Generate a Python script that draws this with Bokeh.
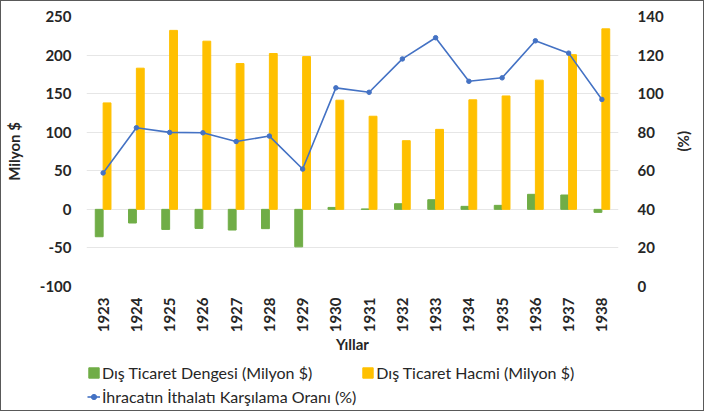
from bokeh.plotting import figure
from bokeh.models import (FactorRange, Range1d, LinearAxis, FixedTicker, SingleIntervalTicker,
                          Legend, LegendItem, ColumnDataSource)
from bokeh.layouts import column
from bokeh.transform import dodge
from bokeh.embed import file_html
from bokeh.resources import INLINE
import math

years = ["1923", "1924", "1925", "1926", "1927", "1928", "1929", "1930",
         "1931", "1932", "1933", "1934", "1935", "1936", "1937", "1938"]
balance = [-35.5, -17.7, -26, -24.7, -26.8, -25, -48.6, 2.5,
           0.5, 7.3, 12.5, 3.9, 5.2, 19.5, 18.6, -3.9]
volume = [138, 183, 232, 218, 189, 202, 198, 141.5,
          120.7, 89, 103.7, 142, 147, 167.5, 200.5, 234]
coverage = [58.9, 82.3, 79.9, 79.7, 75.2, 78, 60.9, 103,
            100.7, 118, 129, 106.4, 108.2, 127.4, 121, 97]
left_ticks = [-100, -50, 0, 50, 100, 150, 200, 250]
series_names = ["Dış Ticaret Dengesi (Milyon $)", "Dış Ticaret Hacmi (Milyon $)",
                "İhracatın İthalatı Karşılama Oranı (%)"]

FONT = "Lato"
TXT = "#262626"
GREEN, YELLOW, BLUE = "#70AD47", "#FFC000", "#4472C4"

src = ColumnDataSource(dict(year=years, balance=balance, volume=volume, coverage=coverage))

W = 702
p = figure(width=W, height=355, x_range=FactorRange(*years, range_padding=0),
           y_range=Range1d(-100, 250), output_backend="svg", toolbar_location=None,
           min_border_left=82, min_border_right=70, min_border_top=15, min_border_bottom=10)
p.extra_y_ranges = {"pct": Range1d(0, 140)}
p.outline_line_color = None

p.vbar(x=dodge("year", -0.118, range=p.x_range), top="balance", bottom=0, width=0.236,
       source=src, color=GREEN)
p.vbar(x=dodge("year", 0.118, range=p.x_range), top="volume", bottom=0, width=0.236,
       source=src, color=YELLOW)
p.line(x="year", y="coverage", source=src, y_range_name="pct", color=BLUE, line_width=1.6)
p.scatter(x="year", y="coverage", source=src, y_range_name="pct", color=BLUE, size=4.5)

p.xgrid.grid_line_color = None
p.ygrid.grid_line_color = "#E6E6E6"
p.ygrid.ticker = FixedTicker(ticks=left_ticks)

ax = p.yaxis[0]
ax.ticker = FixedTicker(ticks=left_ticks)
ax.major_label_overrides = {t: str(t) for t in left_ticks}
ax.axis_label = "Milyon $"

ax2 = LinearAxis(y_range_name="pct", ticker=SingleIntervalTicker(interval=20), axis_label="(%)")
p.add_layout(ax2, "right")
try:
    ax2.axis_label_orientation = math.pi / 2
except Exception:
    pass

xa = p.xaxis[0]
xa.axis_label = "Yıllar"
xa.major_label_orientation = math.pi / 2

for a in (ax, ax2, xa):
    a.axis_line_color = None
    a.major_tick_line_color = None
    a.minor_tick_line_color = None
    a.major_tick_in = 0
    a.major_tick_out = 0
    a.major_label_text_font = FONT
    a.major_label_text_font_style = "bold"
    a.major_label_text_font_size = "15px"
    a.major_label_text_color = TXT
    a.axis_label_text_font = FONT
    a.axis_label_text_font_style = "bold"
    a.axis_label_text_font_size = "15px"
    a.axis_label_text_color = TXT
ax.major_label_standoff = 15
ax2.major_label_standoff = 15
xa.major_label_standoff = 11
ax.axis_label_standoff = 14
ax2.axis_label_standoff = 16
xa.axis_label_standoff = 0

# legend panel (its frame is aligned with the chart frame by the column layout)
lf = figure(width=W, height=54, x_range=Range1d(0, 1), y_range=Range1d(0, 1), output_backend="svg",
            toolbar_location=None, min_border=0, x_axis_location=None, y_axis_location=None)
lf.outline_line_color = None
lf.grid.visible = False
lsrc = ColumnDataSource(dict(x=[-50.0], y=[-50.0]))
r1 = lf.vbar(x="x", top="y", bottom=-60, width=0.1, source=lsrc, color=GREEN)
r2 = lf.vbar(x="x", top="y", bottom=-60, width=0.1, source=lsrc, color=YELLOW)
r3 = lf.line(x="x", y="y", source=lsrc, color=BLUE, line_width=1.6)
r4 = lf.scatter(x="x", y="y", source=lsrc, color=BLUE, size=4.5)

legend = Legend(items=[
    LegendItem(label=series_names[0], renderers=[r1]),
    LegendItem(label=series_names[2], renderers=[r3, r4]),
    LegendItem(label=series_names[1], renderers=[r2]),
], nrows=2, location=(1, 4), margin=0, padding=0, spacing=5,
    label_text_font=FONT, label_text_font_size="16px", label_text_color=TXT,
    glyph_width=13, glyph_height=13, label_standoff=2, label_height=15,
    border_line_color=None, background_fill_alpha=0)
lf.add_layout(legend, "center")

layout = column(p, lf, spacing=0, styles={"border": "1px solid #595959"})
open("out.html", "w").write(file_html(layout, INLINE))
